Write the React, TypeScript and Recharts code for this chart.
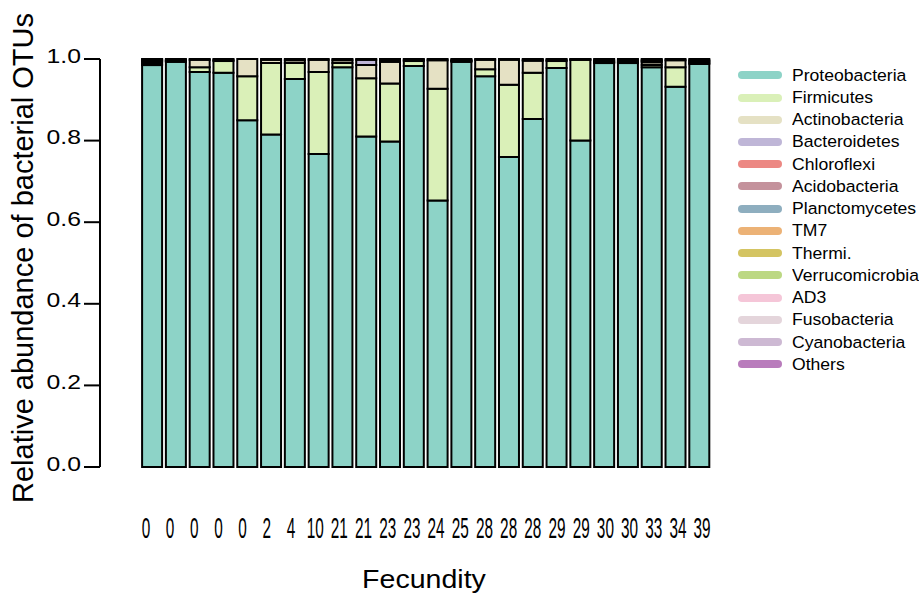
import React from 'react'
import { BarChart, Bar, XAxis, YAxis } from 'recharts'

// fecundity of each sample (x tick labels, one per bar)
const fecundity = ['0', '0', '0', '0', '0', '2', '4', '10', '21', '21', '23', '23', '24', '25', '28', '28', '28', '29', '29', '30', '30', '33', '34', '39']

// relative abundance per phylum, same order as fecundity
const proteobacteria = [0.985, 0.993, 0.968, 0.966, 0.85, 0.815, 0.951, 0.767, 0.98, 0.81, 0.798, 0.983, 0.653, 0.993, 0.958, 0.76, 0.853, 0.978, 0.8, 0.99, 0.99, 0.98, 0.932, 0.988]
const firmicutes = [0.004, 0.002, 0.012, 0.029, 0.108, 0.175, 0.039, 0.201, 0.01, 0.143, 0.142, 0.012, 0.274, 0.002, 0.017, 0.177, 0.113, 0.017, 0.198, 0.002, 0.002, 0.005, 0.048, 0.003]
const actinobacteria = [0.004, 0.001, 0.018, 0.003, 0.042, 0.008, 0.007, 0.03, 0.007, 0.032, 0.053, 0.003, 0.07, 0.001, 0.023, 0.061, 0.03, 0.003, 0.001, 0.002, 0.003, 0.007, 0.017, 0.003]
const bacteroidetes = [0, 0, 0, 0, 0, 0, 0, 0, 0, 0.013, 0.002, 0, 0, 0, 0, 0, 0, 0, 0, 0, 0, 0, 0, 0]
const chloroflexi = [0.002, 0, 0, 0, 0, 0, 0, 0, 0, 0, 0, 0, 0, 0, 0, 0, 0, 0, 0, 0, 0, 0, 0, 0]
const acidobacteria = [0.002, 0.002, 0, 0, 0, 0.002, 0.003, 0, 0.003, 0, 0.003, 0.002, 0.003, 0.002, 0.002, 0, 0.002, 0.002, 0.001, 0.003, 0.003, 0.003, 0.003, 0.003]
const planctomycetes = [0.002, 0.002, 0, 0.002, 0, 0, 0, 0.002, 0, 0.002, 0, 0, 0, 0.002, 0, 0.002, 0.002, 0, 0, 0.003, 0.002, 0.003, 0, 0.003]
const others = [0.001, 0, 0.002, 0, 0, 0, 0, 0, 0, 0, 0.002, 0, 0, 0, 0, 0, 0, 0, 0, 0, 0, 0.002, 0, 0]

const yTicks = [0, 0.2, 0.4, 0.6, 0.8, 1.0]

const legendNames = ['Proteobacteria', 'Firmicutes', 'Actinobacteria', 'Bacteroidetes', 'Chloroflexi', 'Acidobacteria', 'Planctomycetes', 'TM7', 'Thermi.', 'Verrucomicrobia', 'AD3', 'Fusobacteria', 'Cyanobacteria', 'Others']
const legendColors = ['#8dd3c7', '#daf0b8', '#e5e1c4', '#bfb6d7', '#ec8883', '#c4929c', '#8eaebf', '#ecb276', '#d4c462', '#bcd883', '#f5c6d8', '#e4d5db', '#cdb9d3', '#b97cbc']

const series: { name: string; values: number[] }[] = [
  { name: 'Proteobacteria', values: proteobacteria },
  { name: 'Firmicutes', values: firmicutes },
  { name: 'Actinobacteria', values: actinobacteria },
  { name: 'Bacteroidetes', values: bacteroidetes },
  { name: 'Chloroflexi', values: chloroflexi },
  { name: 'Acidobacteria', values: acidobacteria },
  { name: 'Planctomycetes', values: planctomycetes },
  { name: 'Others', values: others }
]

const data = fecundity.map((f, i) => {
  const row: Record<string, any> = { sample: `S${i + 1}`, fecundity: f }
  series.forEach(s => { row[s.name] = s.values[i] })
  return row
})

const FONT = '"Liberation Sans", Arial, sans-serif'

// labels in the original drift a little to the right of the bars from left to right
const XTick = ({ x, y, index }: any) => {
  const shift = -6 + (9 * index) / (fecundity.length - 1)
  return (
    <g transform={`translate(${x + shift},${y}) scale(0.52,1)`}>
      <text x={0} y={0} textAnchor="middle" dominantBaseline="central" fontSize={29.5} fill="#000" fontFamily={FONT}>
        {fecundity[index]}
      </text>
    </g>
  )
}

const YTick = ({ x, y, payload }: any) => (
  <g transform={`translate(${x},${y - 3}) scale(1.27,1)`}>
    <text x={0} y={0} textAnchor="end" dominantBaseline="central" fontSize={19.5} fill="#000" fontFamily={FONT}>
      {Number(payload.value).toFixed(1)}
    </text>
  </g>
)

export default function App() {
  return (
    <div style={{ position: 'relative', width: 919, height: 597, background: '#fff', fontFamily: FONT }}>
      <style>{'body{margin:0}'}</style>
      <BarChart
        width={919}
        height={597}
        data={data}
        margin={{ top: 59, right: 208, left: 0, bottom: 0 }}
        barCategoryGap={2.1}
      >
        <XAxis
          dataKey="sample"
          axisLine={false}
          tickLine={false}
          tickSize={0}
          tickMargin={61}
          height={130}
          interval={0}
          padding={{ left: 40, right: 0 }}
          tick={<XTick />}
          label={{
            content: () => (
              <g transform="translate(424,588) scale(1.12,1)">
                <text x={0} y={0} textAnchor="middle" fontSize={25.5} fill="#000" fontFamily={FONT}>Fecundity</text>
              </g>
            )
          }}
        />
        <YAxis
          domain={[0, 1]}
          ticks={yTicks}
          width={100}
          tickSize={16}
          tickMargin={3}
          axisLine={{ stroke: '#000', strokeWidth: 2 }}
          tickLine={{ stroke: '#000', strokeWidth: 2 }}
          tick={<YTick />}
          label={{
            content: () => (
              <text x={33} y={258} transform="rotate(-90 33 258)" textAnchor="middle" fontSize={29} fill="#000" fontFamily={FONT}>
                Relative abundance of bacterial OTUs
              </text>
            )
          }}
        />
        {series.map(s => (
          <Bar
            key={s.name}
            dataKey={s.name}
            stackId="a"
            fill={legendColors[legendNames.indexOf(s.name)]}
            stroke="#000"
            strokeWidth={2}
            isAnimationActive={false}
          />
        ))}
      </BarChart>

      {legendNames.map((n, i) => (
        <div key={n} style={{ position: 'absolute', left: 738, top: 75.3 + i * 22.23 - 11, height: 22, display: 'flex', alignItems: 'center' }}>
          <div style={{ width: 44, height: 8, borderRadius: 4, background: legendColors[i] }} />
          <div style={{ marginLeft: 10, fontSize: 16.3, color: '#000', whiteSpace: 'nowrap', transform: 'scaleX(1.08)', transformOrigin: 'left center' }}>{n}</div>
        </div>
      ))}
    </div>
  )
}
